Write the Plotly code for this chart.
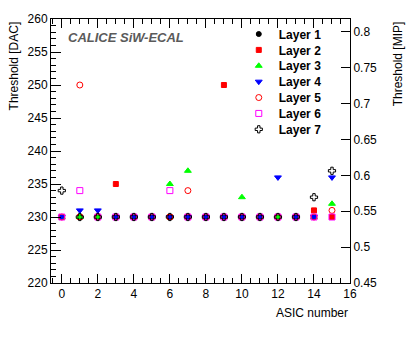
"""
CALICE SiW-ECAL -- trigger threshold per ASIC, one marker series per layer.
"""
import plotly.graph_objects as go

# ── Data ────────────────────────────────────────────────────
asic = list(range(16))

layer_1 = [230, 230, 230, 230, 230, 230, 230, 230, 230, 230, 230, 230, 230, 230, 230, 230]
layer_2 = [230, 230, 230, 235, 230, 230, 230, 230, 230, 250, 230, 230, 230, 230, 231, 230]
layer_3 = [230, 230, 230, 230, 230, 230, 235, 237, 230, 230, 233, 230, 230, 230, 230, 232]
layer_4 = [230, 231, 231, 230, 230, 230, 230, 230, 230, 230, 230, 230, 236, 230, 230, 236]
layer_5 = [230, 250, 230, 230, 230, 230, 230, 234, 230, 230, 230, 230, 230, 230, 230, 231]
layer_6 = [230, 234, 230, 230, 230, 230, 234, 230, 230, 230, 230, 230, 230, 230, 230, 230]
layer_7 = [234, 230, 230, 230, 230, 230, 230, 230, 230, 230, 230, 230, 230, 230, 233, 237]

layer_names = ["Layer 1", "Layer 2", "Layer 3", "Layer 4", "Layer 5", "Layer 6", "Layer 7"]
layer_values = [layer_1, layer_2, layer_3, layer_4, layer_5, layer_6, layer_7]

dac_range = [220, 260]
mip_range = [0.45, 0.818]

# ── Styles (ROOT-like markers) ──────────────────────────────
STYLES = [
    dict(symbol="circle", color="black", size=5),
    dict(symbol="square", color="#ff0000", size=5),
    dict(symbol="triangle-up", color="#00ff00", size=6),
    dict(symbol="triangle-down", color="#0000ff", size=6),
    dict(symbol="circle-open", color="#ff0000", size=6),
    dict(symbol="square-open", color="#ff00ff", size=6),
    dict(symbol="cross-open", color="black", size=6),
]

FONT = "Liberation Sans, Arial, sans-serif"
PLOT_H = 337 - 17 - 54      # plot area height in px
ROW = 16                    # legend row spacing in px

fig = go.Figure()
legends = {}
for i, (name, vals, st) in enumerate(zip(layer_names, layer_values, STYLES)):
    key = "legend" if i == 0 else f"legend{i + 1}"
    fig.add_trace(go.Scatter(
        x=asic, y=vals, mode="markers", name=f"<b>{name}</b>",
        legend=key,
        marker=dict(symbol=st["symbol"], size=st["size"], color=st["color"],
                    line=dict(width=1, color=st["color"])),
    ))
    # one legend box per entry so rows can sit closer than plotly's minimum
    legends[key] = dict(
        x=0.628, y=0.998 - i * ROW / PLOT_H, xanchor="left", yanchor="top",
        bgcolor="rgba(0,0,0,0)", font=dict(size=12, family=FONT),
        itemwidth=30,
    )

# invisible trace so the MIP axis is drawn
fig.add_trace(go.Scatter(x=[asic[0]], y=[mip_range[0]], yaxis="y2",
                         mode="markers", marker=dict(opacity=0),
                         showlegend=False, hoverinfo="skip"))

fig.update_layout(
    width=415, height=337,
    margin=dict(l=51, r=65, t=17, b=54),
    paper_bgcolor="white", plot_bgcolor="white",
    font=dict(family=FONT, size=12, color="black"),
    xaxis=dict(
        range=[-0.6, 16], dtick=2, tick0=0,
        showline=True, linecolor="black", linewidth=1, mirror="ticks",
        ticks="inside", ticklen=9, tickcolor="black",
        minor=dict(dtick=0.5, ticks="inside", ticklen=5, tickcolor="black"),
        showgrid=False, zeroline=False,
        tickfont=dict(size=12),
    ),
    yaxis=dict(
        range=dac_range, dtick=5,
        showline=True, linecolor="black", linewidth=1, mirror=False,
        ticks="inside", ticklen=10, tickcolor="black",
        minor=dict(dtick=1, ticks="inside", ticklen=5, tickcolor="black"),
        showgrid=False, zeroline=False,
        tickfont=dict(size=12),
    ),
    yaxis2=dict(
        range=mip_range, dtick=0.05, tick0=0.45, overlaying="y", side="right",
        showline=True, linecolor="black", linewidth=1,
        ticks="inside", ticklen=9, tickcolor="black",
        showgrid=False, zeroline=False,
        tickfont=dict(size=12),
    ),
    showlegend=True,
    **legends,
)

fig.add_annotation(text="<b><i>CALICE SiW-ECAL</i></b>", xref="paper", yref="paper",
                   x=0.05, y=0.929, xanchor="left", yanchor="middle", showarrow=False,
                   font=dict(size=13, color="#5a5a5a"))
fig.add_annotation(text="Threshold [DAC]", xref="paper", yref="paper",
                   x=-0.124, y=1.0, xanchor="center", yanchor="top", textangle=-90,
                   showarrow=False, font=dict(size=12))
fig.add_annotation(text="Threshold [MIP]", xref="paper", yref="paper",
                   x=1.16, y=1.0, xanchor="center", yanchor="top", textangle=-90,
                   showarrow=False, font=dict(size=12))
fig.add_annotation(text="ASIC number", xref="paper", yref="paper",
                   x=1.0, y=-0.113, xanchor="right", yanchor="middle",
                   showarrow=False, font=dict(size=12))

# page body has a default 8px margin; drop it so the figure sits at the origin
fig.write_html("out.html", config={"displayModeBar": False},
               post_script="document.body.style.margin='0';")
